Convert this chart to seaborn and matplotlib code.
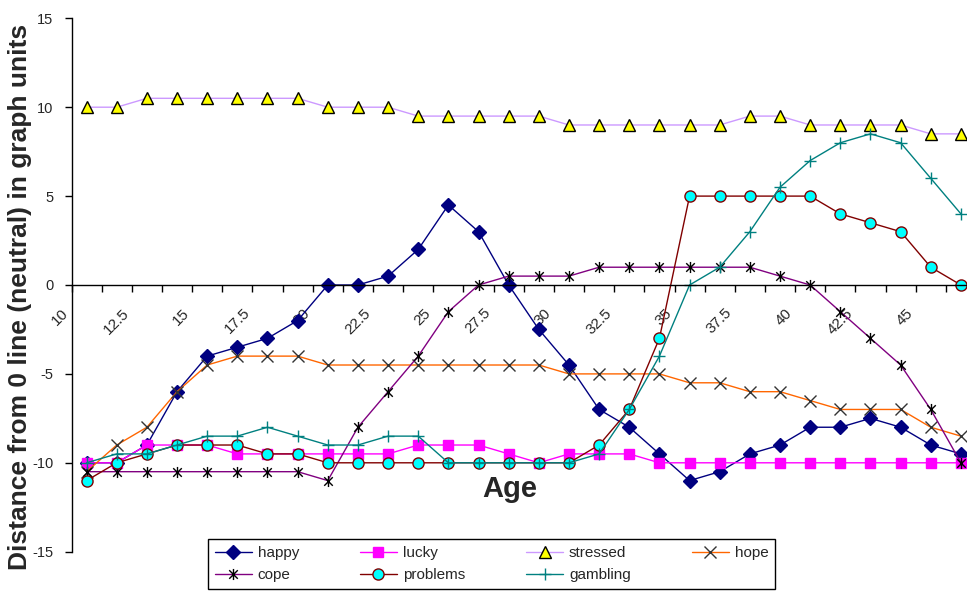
import numpy as np
import pandas as pd
import matplotlib
matplotlib.use("Agg")
import matplotlib.pyplot as plt
from matplotlib.path import Path
import seaborn as sns

# вікові категорії (центри категорій) та значення рядів
ages = [10.625, 11.875, 13.125, 14.375, 15.625, 16.875, 18.125, 19.375, 20.625, 21.875,
        23.125, 24.375, 25.625, 26.875, 28.125, 29.375, 30.625, 31.875, 33.125, 34.375,
        35.625, 36.875, 38.125, 39.375, 40.625, 41.875, 43.125, 44.375, 45.625, 46.875]
happy = [-10, -10, -9, -6, -4, -3.5, -3, -2, 0, 0, 0.5, 2, 4.5, 3, 0,
         -2.5, -4.5, -7, -8, -9.5, -11, -10.5, -9.5, -9, -8, -8, -7.5, -8, -9, -9.5]
lucky = [-10, -10, -9, -9, -9, -9.5, -9.5, -9.5, -9.5, -9.5, -9.5, -9, -9, -9, -9.5,
         -10, -9.5, -9.5, -9.5, -10, -10, -10, -10, -10, -10, -10, -10, -10, -10, -10]
stressed = [10, 10, 10.5, 10.5, 10.5, 10.5, 10.5, 10.5, 10, 10, 10, 9.5, 9.5, 9.5, 9.5,
            9.5, 9, 9, 9, 9, 9, 9, 9.5, 9.5, 9, 9, 9, 9, 8.5, 8.5]
hope = [-10.5, -9, -8, -6, -4.5, -4, -4, -4, -4.5, -4.5, -4.5, -4.5, -4.5, -4.5, -4.5,
        -4.5, -5, -5, -5, -5, -5.5, -5.5, -6, -6, -6.5, -7, -7, -7, -8, -8.5]
cope = [-10.5, -10.5, -10.5, -10.5, -10.5, -10.5, -10.5, -10.5, -11, -8, -6, -4, -1.5, 0, 0.5,
        0.5, 0.5, 1, 1, 1, 1, 1, 1, 0.5, 0, -1.5, -3, -4.5, -7, -10]
problems = [-11, -10, -9.5, -9, -9, -9, -9.5, -9.5, -10, -10, -10, -10, -10, -10, -10,
            -10, -10, -9, -7, -3, 5, 5, 5, 5, 5, 4, 3.5, 3, 1, 0]
gambling = [-10, -9.5, -9.5, -9, -8.5, -8.5, -8, -8.5, -9, -9, -8.5, -8.5, -10, -10, -10,
            -10, -10, -9.5, -7, -4, 0, 1, 3, 5.5, 7, 8, 8.5, 8, 6, 4]

major_ticks = [10, 12.5, 15, 17.5, 20, 22.5, 25, 27.5, 30, 32.5, 35, 37.5, 40, 42.5, 45, 47.5]
tick_labels = ["10", "12.5", "15", "17.5", "20", "22.5", "25", "27.5", "30", "32.5",
               "35", "37.5", "40", "42.5", "45", ""]
minor_ticks = [11.25, 13.75, 16.25, 18.75, 21.25, 23.75, 26.25, 28.75, 31.25, 33.75,
               36.25, 38.75, 41.25, 43.75, 46.25]

sns.set_style("white")
plt.rcParams['font.family'] = ['Liberation Sans', 'DejaVu Sans']
plt.rcParams['axes.unicode_minus'] = False

fig = plt.figure(figsize=(9.67, 5.93), dpi=100)
ax = fig.add_axes([71.5 / 967, 41.3 / 593, 904.5 / 967, 533.4 / 593])

# зірочка як в Excel: хрестик + вертикальна риска
star = Path([(-1, -1), (1, 1), (-1, 1), (1, -1), (0, -1.3), (0, 1.3)],
            [Path.MOVETO, Path.LINETO] * 3)

series = [
    ("happy", happy, dict(color="#000080", marker="D", markersize=7,
                          markerfacecolor="#000080", markeredgecolor="#000080")),
    ("lucky", lucky, dict(color="#FF00FF", marker="s", markersize=7,
                          markerfacecolor="#FF00FF", markeredgecolor="#FF00FF")),
    ("stressed", stressed, dict(color="#CC99FF", marker="^", markersize=8.5,
                                markerfacecolor="#FFFF00", markeredgecolor="black")),
    ("hope", hope, dict(color="#FF6600", marker="x", markersize=8,
                        markerfacecolor="none", markeredgecolor="#333333")),
    ("cope", cope, dict(color="#800080", marker=star, markersize=8,
                        markerfacecolor="none", markeredgecolor="black")),
    ("problems", problems, dict(color="#800000", marker="o", markersize=8,
                                markerfacecolor="#00FFFF", markeredgecolor="#800000")),
    ("gambling", gambling, dict(color="#008080", marker="+", markersize=9,
                                markerfacecolor="none", markeredgecolor="#008080")),
]

for name, vals, style in series:
    df = pd.DataFrame({"age": ages, "value": vals})
    sns.lineplot(data=df, x="age", y="value", ax=ax, label=name, estimator=None,
                 linewidth=1.0, markeredgewidth=1.0, **style)

handles, labels = ax.get_legend_handles_labels()
if ax.get_legend() is not None:
    ax.get_legend().remove()

ax.set_xlim(10, 47.5)
ax.set_ylim(-15, 15)
ax.set_yticks([-15, -10, -5, 0, 5, 10, 15])
ax.set_xticks(major_ticks, tick_labels)
ax.set_xticks(minor_ticks, minor=True)

for s in ["top", "right"]:
    ax.spines[s].set_visible(False)
ax.spines["bottom"].set_position(("data", 0))
ax.spines["bottom"].set_color("black")
ax.spines["left"].set_color("black")
ax.spines["bottom"].set_linewidth(1.0)
ax.spines["left"].set_linewidth(1.0)

ax.tick_params(axis="y", direction="out", length=5, width=1, color="black",
               labelsize=10.5, pad=8, left=True)
ax.tick_params(axis="x", which="both", direction="out", length=5, width=1,
               color="black", bottom=True)
ax.tick_params(axis="x", labelsize=11, pad=10)
for lab in ax.get_xticklabels():
    lab.set_rotation(45)
    lab.set_ha("right")
    lab.set_va("top")

ax.set_xlabel("")
ax.set_ylabel("")
fig.text(20 / 967, 1 - 297 / 593, "Distance from 0 line (neutral) in graph units",
         rotation=90, ha="center", va="center", fontsize=19, fontweight="bold")
fig.text(510 / 967, 1 - 489 / 593, "Age", ha="center", va="center",
         fontsize=21, fontweight="bold")

order = [0, 4, 1, 5, 2, 6, 3]
leg = fig.legend([handles[i] for i in order], [labels[i] for i in order],
                 loc="upper left", bbox_to_anchor=(208 / 967, 1 - 539 / 593),
                 ncol=4, fontsize=11, frameon=True, fancybox=False,
                 edgecolor="black", framealpha=1, handlelength=2.4,
                 handletextpad=0.4, columnspacing=4.0, labelspacing=0.55,
                 borderpad=0.45, borderaxespad=0)
leg.get_frame().set_linewidth(1.0)

fig.savefig("out.png", dpi=100)
